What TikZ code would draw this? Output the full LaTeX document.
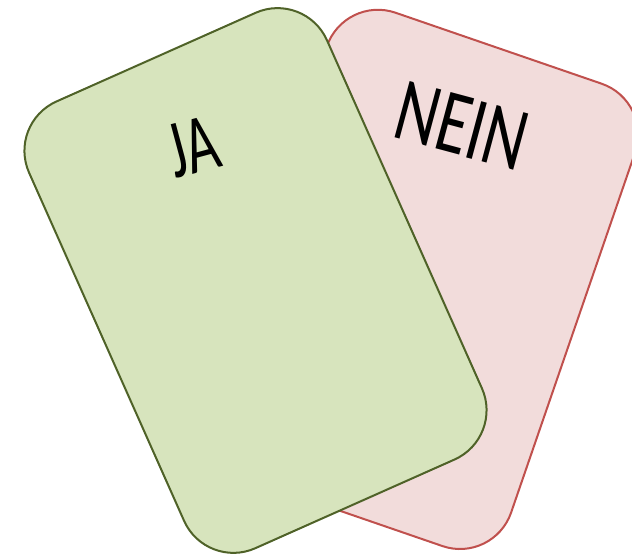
\documentclass[tikz,border=0pt]{standalone}
\usepackage{fontspec}
\setmainfont{Carlito}
\usepackage{graphicx}
\definecolor{greenfill}{HTML}{D7E4BD}
\definecolor{greenline}{HTML}{4F6228}
\definecolor{redfill}{HTML}{F2DCDB}
\definecolor{redline}{HTML}{C0504D}
\tikzset{
  card/.style={rectangle, rounded corners=40.5pt, minimum width=244.5pt,
    minimum height=366.75pt, line width=1.5pt, inner sep=0pt},
  greencard/.style={card, draw=greenline, fill=greenfill},
  redcard/.style={card, draw=redline, fill=redfill},
  cardtext/.style={inner sep=0pt, text=black}
}
\begin{document}
\begin{tikzpicture}[x=0.75pt,y=0.75pt]
  \useasboundingbox (0,0) rectangle (632,554);
  \clip (0,0) rectangle (632,554);
  \node[redcard, rotate=-19] (nein card) at (419,274.6) {};
  \node[greencard, rotate=24] (ja card) at (255.5,273.5) {};
  \node[cardtext, rotate=15] (ja) at (193,407)
    {\fontsize{62}{68}\selectfont\scalebox{0.68}[1]{JA}};
  \node[cardtext, rotate=-15] (nein) at (462,428)
    {\fontsize{68}{74}\selectfont\scalebox{0.72}[1]{NEIN}};
\end{tikzpicture}
\end{document}
